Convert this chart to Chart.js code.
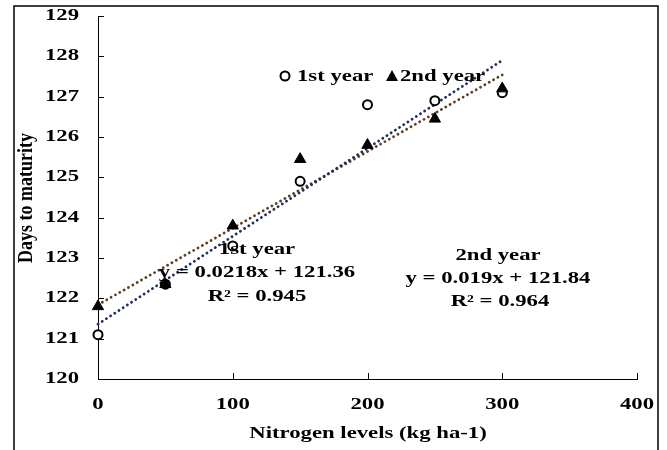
<!DOCTYPE html>
<html>
<head>
<meta charset="utf-8">
<script src="https://cdn.jsdelivr.net/npm/chart.js@4"></script>
<style>
  html, body { margin: 0; padding: 0; background: #fff; }
  canvas { display: block; }
</style>
</head>
<body>
<canvas id="maturityChart" width="667" height="450"></canvas>
<script>
// nitrogen rates and days to maturity for both seasons
var nitrogen = [0, 50, 100, 150, 200, 250, 300];
var year1 = [121.1, 122.35, 123.3, 124.9, 126.8, 126.9, 127.1];
var year2 = [121.8, 122.35, 123.8, 125.45, 125.8, 126.45, 127.2];

// linear fits as printed on the chart
var fit1 = { slope: 0.0218, intercept: 121.36, r2: '0.945' };
var fit2 = { slope: 0.019, intercept: 121.84, r2: '0.964' };
var fitRange = [0, 300];

var xTicks = [0, 100, 200, 300, 400];
var yTicks = [120, 121, 122, 123, 124, 125, 126, 127, 128, 129];

var FONT = 'bold 16px "Liberation Serif", "Times New Roman", serif';
var SX = 1.42; // text is drawn a little wide

function points(ys) {
  return nitrogen.map(function (x, i) { return { x: x, y: ys[i] }; });
}
function fitLine(f) {
  return fitRange.map(function (x) { return { x: x, y: f.intercept + f.slope * x }; });
}

function wideText(ctx, txt, x, y, align) {
  ctx.save();
  ctx.translate(x, y);
  ctx.scale(SX, 1);
  ctx.textAlign = align || 'center';
  ctx.textBaseline = 'middle';
  ctx.fillText(txt, 0, 0);
  ctx.restore();
}

var decorations = {
  id: 'decorations',
  afterDraw: function (chart) {
    var ctx = chart.ctx;
    var xs = chart.scales.x, ys = chart.scales.y;
    var area = chart.chartArea;
    ctx.save();

    // outer frame (open at the bottom)
    ctx.strokeStyle = '#000';
    ctx.lineWidth = 1.5;
    ctx.beginPath();
    ctx.moveTo(14, 450);
    ctx.lineTo(14, 6);
    ctx.lineTo(658, 6);
    ctx.lineTo(658, 450);
    ctx.stroke();

    // inward tick marks
    ctx.lineWidth = 1;
    ctx.beginPath();
    yTicks.forEach(function (v) {
      var py = Math.round(ys.getPixelForValue(v)) + 0.5;
      ctx.moveTo(area.left, py);
      ctx.lineTo(area.left + 6, py);
    });
    xTicks.forEach(function (v) {
      var px = Math.round(xs.getPixelForValue(v)) + 0.5;
      ctx.moveTo(px, area.bottom);
      ctx.lineTo(px, area.bottom - 6);
    });
    ctx.stroke();

    ctx.fillStyle = '#000';
    ctx.font = FONT;

    // tick labels
    yTicks.forEach(function (v) {
      wideText(ctx, String(v), 79, ys.getPixelForValue(v), 'right');
    });
    xTicks.forEach(function (v) {
      wideText(ctx, String(v), xs.getPixelForValue(v), 405, 'center');
    });

    // axis titles
    wideText(ctx, 'Nitrogen levels (kg ha-1)', 368, 434, 'center');
    ctx.save();
    ctx.translate(27, 198);
    ctx.rotate(-Math.PI / 2);
    ctx.scale(1, 1.15);
    ctx.font = 'bold 18px "Liberation Serif", "Times New Roman", serif';
    ctx.textAlign = 'center';
    ctx.textBaseline = 'middle';
    ctx.fillText('Days to maturity', 0, 0);
    ctx.restore();

    // legend
    ctx.font = FONT;
    ctx.lineWidth = 2;
    ctx.beginPath();
    ctx.arc(285, 76, 4.5, 0, Math.PI * 2);
    ctx.fillStyle = '#fff';
    ctx.fill();
    ctx.stroke();
    ctx.fillStyle = '#000';
    wideText(ctx, '1st year', 297, 77, 'left');
    ctx.beginPath();
    ctx.moveTo(392, 70);
    ctx.lineTo(398, 81);
    ctx.lineTo(386, 81);
    ctx.closePath();
    ctx.fill();
    wideText(ctx, '2nd year', 400, 77, 'left');

    // regression equations
    wideText(ctx, '1st year', 257, 250, 'center');
    wideText(ctx, 'y = ' + fit1.slope + 'x + ' + fit1.intercept, 257, 273, 'center');
    wideText(ctx, 'R\u00B2 = ' + fit1.r2, 257, 297, 'center');
    wideText(ctx, '2nd year', 498, 256, 'center');
    wideText(ctx, 'y = ' + fit2.slope + 'x + ' + fit2.intercept, 498, 279, 'center');
    wideText(ctx, 'R\u00B2 = ' + fit2.r2, 500, 302, 'center');

    ctx.restore();
  }
};

var ctx = document.getElementById('maturityChart').getContext('2d');
var chart = new Chart(ctx, {
  type: 'scatter',
  data: {
    datasets: [
      {
        label: '2nd year',
        data: points(year2),
        pointStyle: 'triangle',
        pointRadius: 6.5,
        pointHoverRadius: 6.5,
        backgroundColor: '#000',
        borderColor: '#000',
        borderWidth: 1,
        clip: false
      },
      {
        label: '1st year',
        data: points(year1),
        pointStyle: 'circle',
        pointRadius: 4.5,
        pointHoverRadius: 4.5,
        backgroundColor: '#fff',
        borderColor: '#000',
        borderWidth: 2,
        clip: false
      },
      {
        label: 'Linear (1st year)',
        data: fitLine(fit1),
        showLine: true,
        pointRadius: 0,
        borderColor: '#1f2f5e',
        borderWidth: 2.8,
        borderDash: [0.1, 4.9],
        borderCapStyle: 'round',
        clip: false
      },
      {
        label: 'Linear (2nd year)',
        data: fitLine(fit2),
        showLine: true,
        pointRadius: 0,
        borderColor: '#5e3f22',
        borderWidth: 2.8,
        borderDash: [0.1, 4.9],
        borderCapStyle: 'round',
        clip: false
      }
    ]
  },
  options: {
    responsive: false,
    animation: false,
    devicePixelRatio: 1,
    layout: { padding: { left: 98, right: 30, top: 16, bottom: 71 } },
    plugins: {
      legend: { display: false },
      tooltip: { enabled: false }
    },
    scales: {
      x: {
        type: 'linear',
        min: 0,
        max: 400,
        grid: { display: false, drawTicks: false },
        border: { display: true, color: '#000', width: 1 },
        ticks: { display: false, stepSize: 100 },
        afterFit: function (s) { s.height = 0; }
      },
      y: {
        min: 120,
        max: 129,
        grid: { display: false, drawTicks: false },
        border: { display: true, color: '#000', width: 1 },
        ticks: { display: false, stepSize: 1 },
        afterFit: function (s) { s.width = 0; }
      }
    }
  },
  plugins: [decorations]
});
</script>
</body>
</html>
